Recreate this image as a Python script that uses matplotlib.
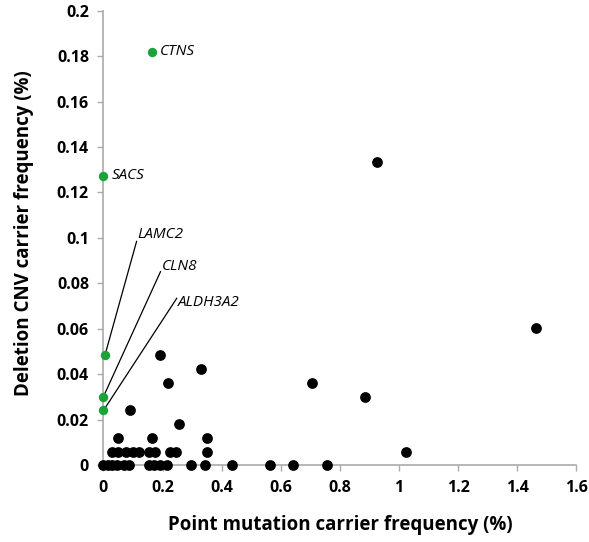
import matplotlib
matplotlib.use("Agg")
import matplotlib.pyplot as plt

# point mutation carrier frequency (%) vs deletion CNV carrier frequency (%)
black_x = [0, 0.015, 0.03, 0.045, 0.07, 0.085, 0.155, 0.17, 0.19, 0.215,
           0.295, 0.345, 0.435, 0.565, 0.64, 0.755,
           0.03, 0.05, 0.075, 0.1, 0.12, 0.155, 0.175, 0.225, 0.245, 0.35, 1.025,
           0.05, 0.165, 0.35,
           0.255, 0.09, 0.885, 0.22, 0.705, 0.33, 0.19, 1.465, 0.927]
black_y = [0] * 16 + \
          [0.0061] * 11 + \
          [0.0121] * 3 + \
          [0.0182, 0.0242, 0.0303, 0.0364, 0.0364, 0.0424, 0.0485, 0.0606, 0.1333]

genes = ["CTNS", "SACS", "LAMC2", "CLN8", "ALDH3A2"]
green_x = [0.165, 0, 0.005, 0, 0]
green_y = [0.1818, 0.1273, 0.0485, 0.0303, 0.0242]

plt.rcParams['font.family'] = ['Open Sans', 'DejaVu Sans']

fig = plt.figure(figsize=(5.89, 5.42), dpi=100)
ax = fig.add_axes([0.1757, 0.1412, 0.8025, 0.8394])

ax.scatter(black_x, black_y, s=60, color='black', zorder=3, clip_on=False, linewidths=0)
ax.scatter(green_x, green_y, s=46, color='#1ba33a', zorder=4, clip_on=False, linewidths=0)

# labels next to the points
ax.text(0.19, 0.1818, "CTNS", style='italic', fontsize=11, va='center', ha='left')
ax.text(0.028, 0.1273, "SACS", style='italic', fontsize=11, va='center', ha='left')

# labels with leader lines
leader = {"LAMC2": (0.112, 0.0985, 0.115, 0.1015),
          "CLN8": (0.193, 0.0852, 0.196, 0.0875),
          "ALDH3A2": (0.248, 0.0735, 0.252, 0.0715)}
for g, x, y in zip(genes, green_x, green_y):
    if g in leader:
        lx, ly, tx, ty = leader[g]
        ax.plot([x, lx], [y, ly], color='black', lw=0.9, zorder=2)
        ax.text(tx, ty, g, style='italic', fontsize=11, va='center', ha='left')

ax.set_xlim(0, 1.6)
ax.set_ylim(0, 0.2)
ax.set_xticks([0, 0.2, 0.4, 0.6, 0.8, 1.0, 1.2, 1.4, 1.6])
ax.set_xticklabels(["0", "0.2", "0.4", "0.6", "0.8", "1", "1.2", "1.4", "1.6"])
ax.set_yticks([0, 0.02, 0.04, 0.06, 0.08, 0.1, 0.12, 0.14, 0.16, 0.18, 0.2])
ax.set_yticklabels(["0", "0.02", "0.04", "0.06", "0.08", "0.1", "0.12", "0.14",
                    "0.16", "0.18", "0.2"])

for side in ['top', 'right']:
    ax.spines[side].set_visible(False)
for side in ['left', 'bottom']:
    ax.spines[side].set_color('#aaaaaa')
    ax.spines[side].set_linewidth(1.2)
ax.tick_params(axis='both', direction='out', length=4.5, width=1, color='#aaaaaa',
               labelsize=11.5, pad=6)
for lab in ax.get_xticklabels() + ax.get_yticklabels():
    lab.set_fontweight('bold')

ax.set_xlabel("Point mutation carrier frequency (%)", fontsize=13.5, fontweight='bold',
              labelpad=14)
ax.set_ylabel("Deletion CNV carrier frequency (%)", fontsize=13.5, fontweight='bold')
ax_w = 0.8025 * 589
ax_h = 0.8394 * 542
ax.yaxis.set_label_coords(-(103.5 - 34) / ax_w, (465.5 - 233) / ax_h)

fig.savefig("out.png", dpi=100)
